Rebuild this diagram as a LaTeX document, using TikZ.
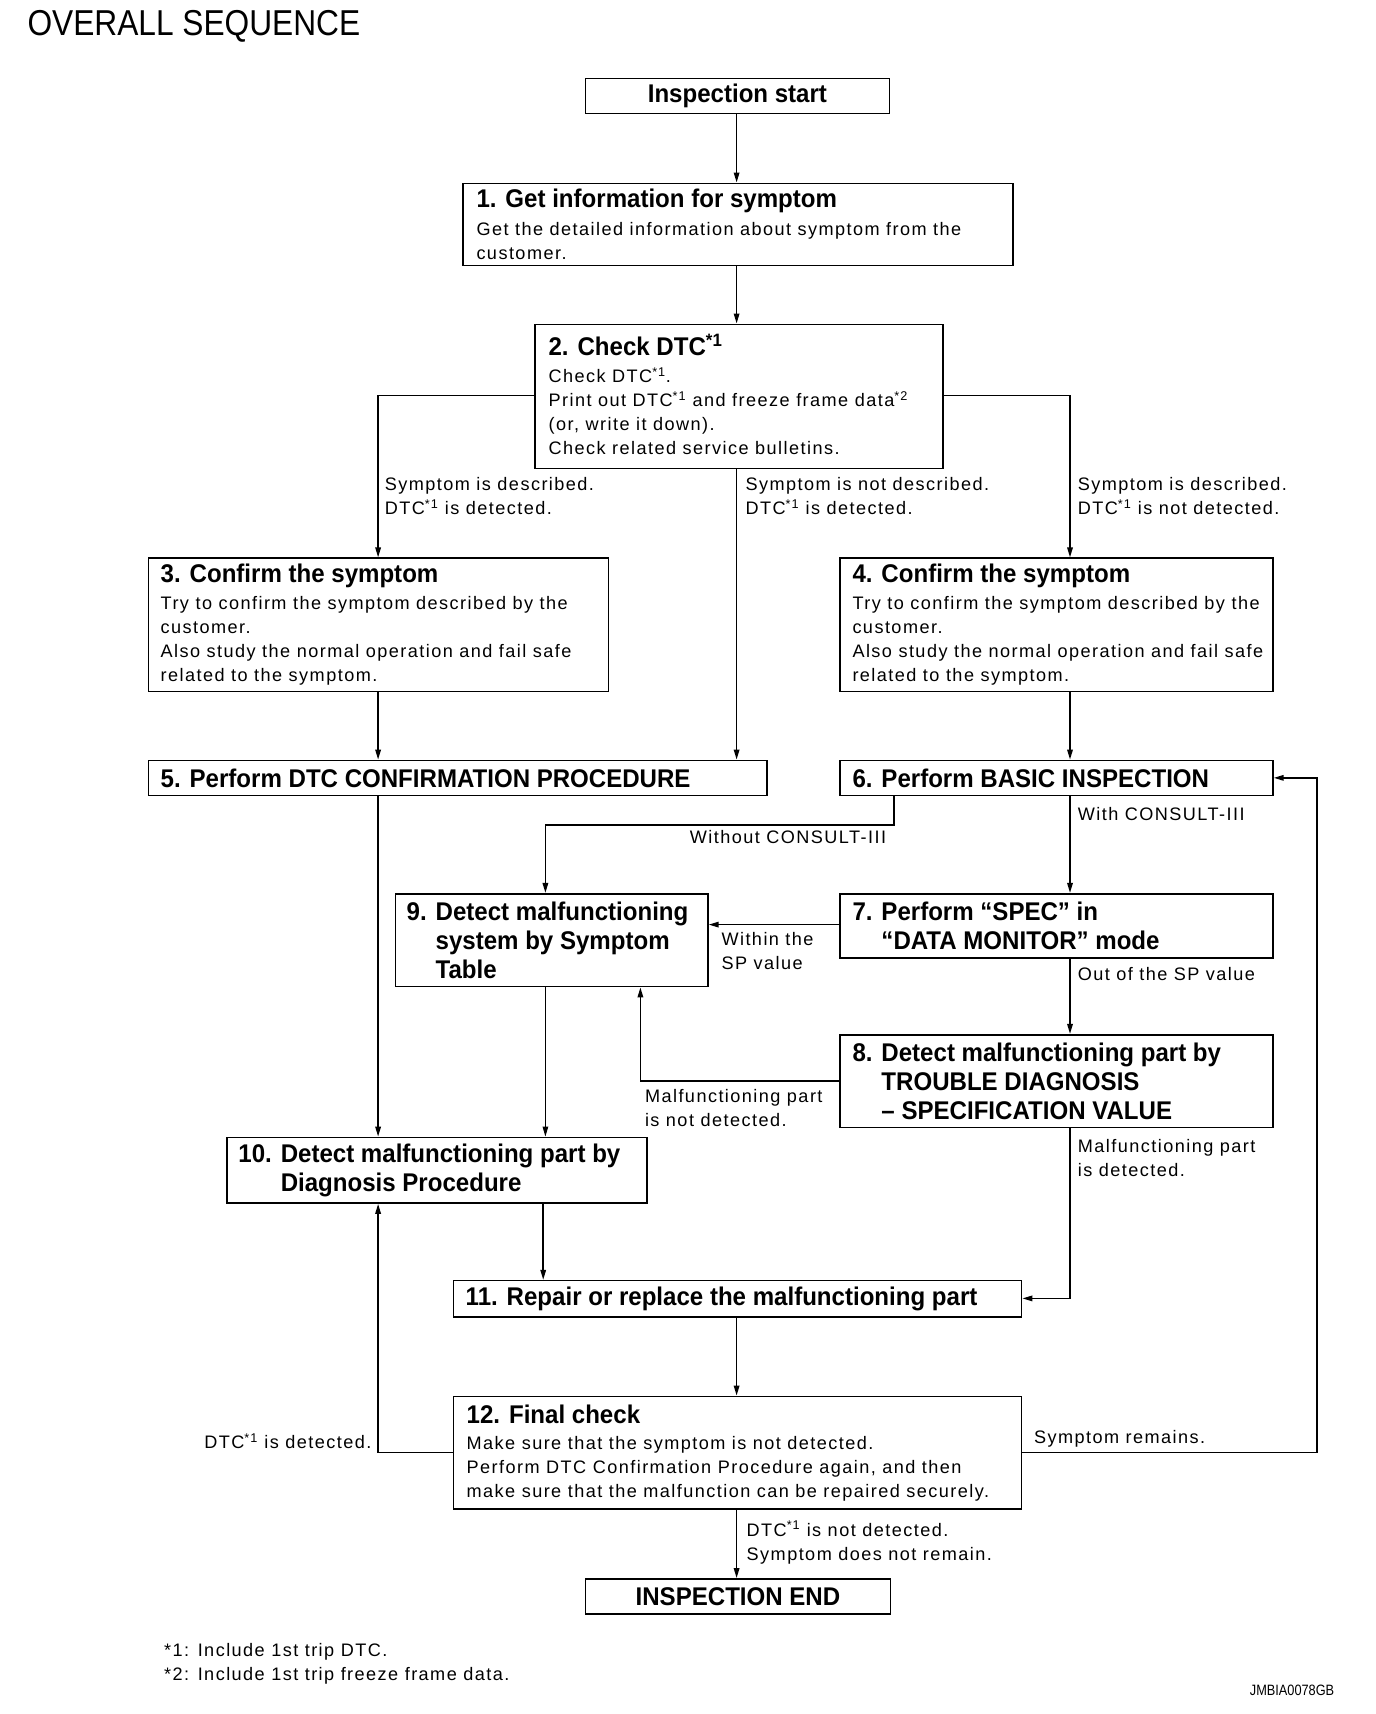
\documentclass[tikz,border=0pt]{standalone}
\usepackage{fontspec}
\setmainfont{Liberation Sans}
\newfontfamily\bodyf[LetterSpace=8]{Liberation Sans}
\newfontfamily\headf[FakeStretch=0.94]{Liberation Sans}
\newfontfamily\titlef[FakeStretch=0.88]{Liberation Sans}
\newfontfamily\codef[FakeStretch=0.85]{Liberation Sans}
\usetikzlibrary{arrows.meta}
\newcommand\bodytext{\bodyf\fontsize{18.1}{24}\selectfont}
\newcommand\headtext{\headf\bfseries\fontsize{25.6}{29}\selectfont}
\newcommand\sstar[1]{\textsuperscript{*#1}}
\begin{document}
\begin{tikzpicture}[x=1pt,y=-1pt,
  box/.style={draw, line width=1.6pt, inner sep=0pt, anchor=north west},
  cbox/.style={box, font=\headtext},
  txt/.style={inner sep=0pt, anchor=west, align=left, font=\bodytext},
  htxt/.style={inner sep=0pt, anchor=west, align=left, font=\headtext},
  lbl/.style={inner sep=0pt, anchor=north west, align=left, font=\bodytext},
  lble/.style={inner sep=0pt, anchor=north east, align=left, font=\bodytext},
  arr/.style={line width=1.6pt, -{Triangle[length=10pt,width=5.5pt]}},
  thinarr/.style={line width=1.1pt, -{Triangle[length=10pt,width=5.5pt]}}]
\fill[white] (0,0) rectangle (1376,1714);
\useasboundingbox (0,0) rectangle (1376,1714);

\node[inner sep=0pt, anchor=west, font=\titlef\fontsize{36}{40}\selectfont] (title) at (27.3,26) {OVERALL SEQUENCE};

% boxes
\node[cbox, minimum width=303.8pt, minimum height=35pt] (start) at (584.7,77.6) {Inspection start};
\node[box, minimum width=549.7pt, minimum height=82pt] (b1) at (462.3,182.5) {};
\node[box, minimum width=407.7pt, minimum height=144.3pt] (b2) at (534.4,323.5) {};
\node[box, minimum width=460.2pt, minimum height=133.3pt] (b3) at (147.5,557.4) {};
\node[box, minimum width=432.8pt, minimum height=133.3pt] (b4) at (839.3,557.4) {};
\node[box, minimum width=618.6pt, minimum height=34.9pt] (b5) at (147.5,759.6) {};
\node[box, minimum width=432.8pt, minimum height=34.9pt] (b6) at (839.3,759.6) {};
\node[box, minimum width=432.8pt, minimum height=64.5pt] (b7) at (839.3,892.9) {};
\node[box, minimum width=312.6pt, minimum height=92.9pt] (b9) at (394.5,892.9) {};
\node[box, minimum width=432.8pt, minimum height=92.9pt] (b8) at (839.3,1033.9) {};
\node[box, minimum width=419.7pt, minimum height=65.6pt] (b10) at (226.2,1136.6) {};
\node[box, minimum width=568.3pt, minimum height=36.1pt] (b11) at (452.5,1279.8) {};
\node[box, minimum width=568.3pt, minimum height=112.6pt] (b12) at (452.5,1395.6) {};
\node[cbox, minimum width=304.9pt, minimum height=35pt] (end) at (584.7,1578.1) {INSPECTION END};

% box texts
\node[txt] (t1) at ([xshift=14pt]b1.west) {{\headtext 1. Get information for symptom}\\[3.3pt]Get the detailed information about symptom from the\\customer.};
\node[txt] (t2) at ([xshift=14pt,yshift=2pt]b2.west) {{\headtext 2. Check DTC\sstar{1}}\\[3.3pt]Check DTC\sstar{1}.\\Print out DTC\sstar{1} and freeze frame data\sstar{2}\\(or, write it down).\\Check related service bulletins.};
\node[txt] (t3) at ([xshift=13pt]b3.west) {{\headtext 3. Confirm the symptom}\\[3.3pt]Try to confirm the symptom described by the\\customer.\\Also study the normal operation and fail safe\\related to the symptom.};
\node[txt] (t4) at ([xshift=13pt]b4.west) {{\headtext 4. Confirm the symptom}\\[3.3pt]Try to confirm the symptom described by the\\customer.\\Also study the normal operation and fail safe\\related to the symptom.};
\node[htxt] (t5) at ([xshift=13pt]b5.west) {5. Perform DTC CONFIRMATION PROCEDURE};
\node[htxt] (t6) at ([xshift=13pt]b6.west) {6. Perform BASIC INSPECTION};
\node[htxt] (t7) at ([xshift=13pt]b7.west) {7. Perform “SPEC” in\\\phantom{7. }“DATA MONITOR” mode};
\node[htxt] (t9) at ([xshift=12pt]b9.west) {9. Detect malfunctioning\\\phantom{9. }system by Symptom\\\phantom{9. }Table};
\node[htxt] (t8) at ([xshift=13pt]b8.west) {8. Detect malfunctioning part by\\\phantom{8. }TROUBLE DIAGNOSIS\\\phantom{8. }– SPECIFICATION VALUE};
\node[htxt] (t10) at ([xshift=12pt]b10.west) {10. Detect malfunctioning part by\\\phantom{10. }Diagnosis Procedure};
\node[htxt] (t11) at ([xshift=13pt]b11.west) {11. Repair or replace the malfunctioning part};
\node[txt] (t12) at ([xshift=14pt]b12.west) {{\headtext 12. Final check}\\[2pt]Make sure that the symptom is not detected.\\Perform DTC Confirmation Procedure again, and then\\make sure that the malfunction can be repaired securely.};

% connector labels
\node[lbl] (l1) at (384.7,477.2) {Symptom is described.\\DTC\sstar{1} is detected.};
\node[lbl] (l2) at (745.4,477.2) {Symptom is not described.\\DTC\sstar{1} is detected.};
\node[lbl] (l3) at (1077.6,477.2) {Symptom is described.\\DTC\sstar{1} is not detected.};
\node[lble] (l4) at (886.3,830.2) {Without CONSULT-III};
\node[lbl] (l5) at (1077.6,807.2) {With CONSULT-III};
\node[lbl] (l6) at (721.3,931.8) {Within the\\SP value};
\node[lbl] (l7) at (1077.6,966.8) {Out of the SP value};
\node[lbl] (l8) at (644.8,1089.2) {Malfunctioning part\\is not detected.};
\node[lbl] (l9) at (1077.6,1139.5) {Malfunctioning part\\is detected.};
\node[lble] (l10) at (371.6,1433.4) {DTC\sstar{1} is detected.};
\node[lbl] (l11) at (1033.9,1430.1) {Symptom remains.};
\node[lbl] (l12) at (746.5,1520.9) {DTC\sstar{1} is not detected.\\Symptom does not remain.};
\node[lbl] (fn) at (163.9,1643.3) {*1: Include 1st trip DTC.\\*2: Include 1st trip freeze frame data.};
\node[inner sep=0pt, anchor=east, font=\codef\fontsize{15}{17}\selectfont] (code) at (1334.4,1690.7) {JMBIA0078GB};

% helper coordinates
\coordinate (cM) at (736.6,0);
\coordinate (cL) at (378.1,0);
\coordinate (cR) at (1070,0);
\coordinate (cW) at (894,0);
\coordinate (c9) at (545.4,0);
\coordinate (c9u) at (640.4,0);
\coordinate (c10) at (543.2,0);
\coordinate (cLoop) at (1317,0);
\coordinate (r2) at (0,395.6);
\coordinate (rW) at (0,825.1);
\coordinate (r7) at (0,924.6);
\coordinate (r8) at (0,1080.9);
\coordinate (r11) at (0,1298.4);
\coordinate (r12) at (0,1452.5);

% connectors
\draw[arr] (start.south -| cM) -- (b1.north -| cM);
\draw[arr] (b1.south -| cM) -- (b2.north -| cM);
\draw[arr] (b2.west |- r2) -| (b3.north -| cL);
\draw[arr] (b2.south -| cM) -- (b5.north -| cM);
\draw[arr] (b2.east |- r2) -| (b4.north -| cR);
\draw[arr] (b3.south -| cL) -- (b5.north -| cL);
\draw[arr] (b4.south -| cR) -- (b6.north -| cR);
\draw[arr] (b6.south -| cW) |- (c9 |- rW) -- (b9.north -| c9);
\draw[arr] (b6.south -| cR) -- (b7.north -| cR);
\draw[arr] (b7.west |- r7) -- (b9.east |- r7);
\draw[arr] (b7.south -| cR) -- (b8.north -| cR);
\draw[arr] (b8.west |- r8) -| (b9.south -| c9u);
\draw[arr] (b8.south -| cR) |- (b11.east |- r11);
\draw[arr] (b5.south -| cL) -- (b10.north -| cL);
\draw[thinarr] (b9.south -| c9) -- (b10.north -| c9);
\draw[arr] (b10.south -| c10) -- (b11.north -| c10);
\draw[arr] (b11.south -| cM) -- (b12.north -| cM);
\draw[arr] (b12.west |- r12) -| (b10.south -| cL);
\draw[arr] (b12.east |- r12) -| (cLoop |- b6.east) -- (b6.east);
\draw[arr] (b12.south -| cM) -- (end.north -| cM);
\end{tikzpicture}
\end{document}
